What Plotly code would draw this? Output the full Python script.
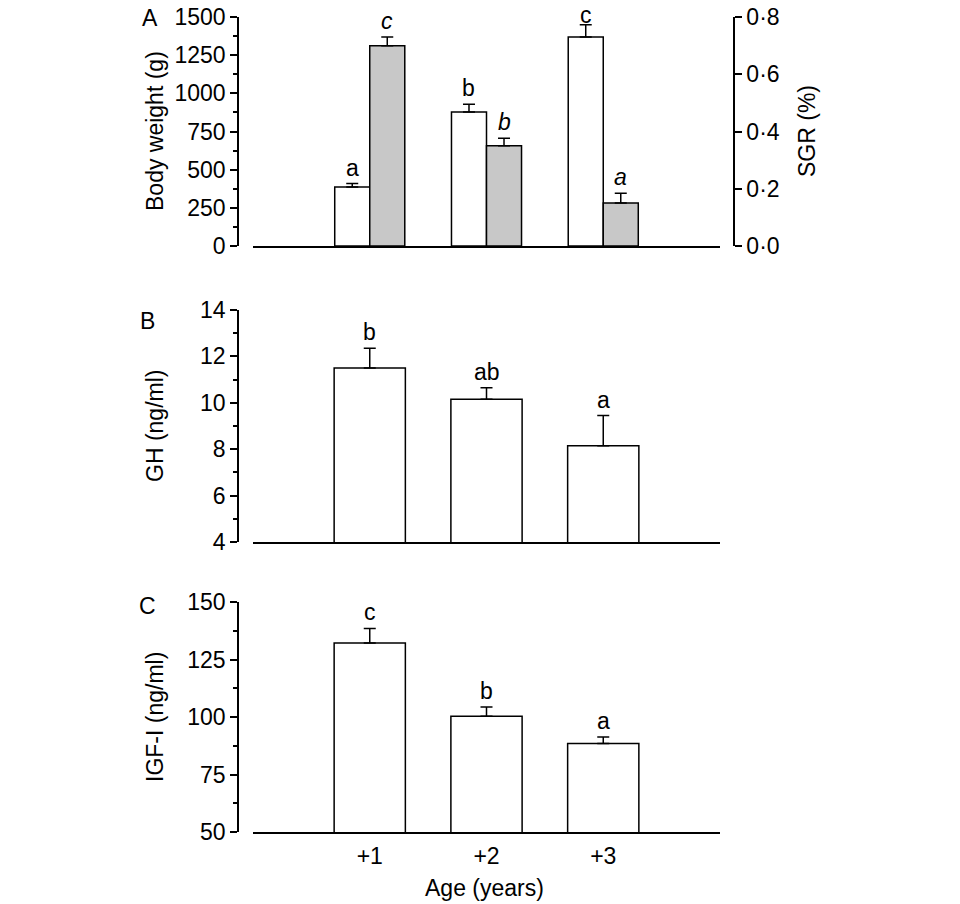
import plotly.graph_objects as go

ages = [1, 2, 3]
age_labels = ["+1", "+2", "+3"]

# panel A
body_weight = [387, 877, 1369]
body_weight_err = [22, 51, 81]
body_weight_letters = ["a", "b", "c"]
sgr = [0.70, 0.35, 0.15]
sgr_err = [0.03, 0.026, 0.034]
sgr_letters = ["c", "b", "a"]
sgr_tickvals = [0, 0.2, 0.4, 0.6, 0.8]
sgr_ticktext = ["0·0", "0·2", "0·4", "0·6", "0·8"]

# panel B
gh = [11.5, 10.15, 8.15]
gh_err = [0.85, 0.5, 1.3]
gh_letters = ["b", "ab", "a"]

# panel C
igf = [132.2, 100.3, 88.5]
igf_err = [6.3, 4.1, 2.8]
igf_letters = ["c", "b", "a"]

FONT = "Liberation Sans, Arial, Helvetica, sans-serif"
W, H = 960, 904
OFF = 8  # page body margin
fs = 23


def px(x):
    return (x - OFF) / W


def py(y):
    return 1 - (y - OFF) / H


xdom = [px(253), px(720)]
doms = {"A": [py(246), py(17)], "B": [py(542), py(310)], "C": [py(832), py(602)]}

fig = go.Figure()

eb = dict(type="data", symmetric=False, color="black", thickness=1.5, width=6)

fig.add_trace(go.Bar(x=ages, y=body_weight, width=0.3, offset=-0.3,
                     marker=dict(color="white", line=dict(color="black", width=1.5)),
                     error_y=dict(eb, array=body_weight_err, arrayminus=[0, 0, 0]),
                     xaxis="x", yaxis="y"))
fig.add_trace(go.Bar(x=ages, y=sgr, width=0.3, offset=0,
                     marker=dict(color="#c8c8c8", line=dict(color="black", width=1.5)),
                     error_y=dict(eb, array=sgr_err, arrayminus=[0, 0, 0]),
                     xaxis="x", yaxis="y2"))
fig.add_trace(go.Bar(x=ages, y=gh, width=0.61,
                     marker=dict(color="white", line=dict(color="black", width=1.5)),
                     error_y=dict(eb, array=gh_err, arrayminus=[0, 0, 0]),
                     xaxis="x2", yaxis="y3"))
fig.add_trace(go.Bar(x=ages, y=igf, width=0.61,
                     marker=dict(color="white", line=dict(color="black", width=1.5)),
                     error_y=dict(eb, array=igf_err, arrayminus=[0, 0, 0]),
                     xaxis="x3", yaxis="y4"))

ax_common = dict(showgrid=False, zeroline=False, showline=True, linecolor="black",
                 linewidth=1.5, automargin=False, ticklabeloverflow="allow",
                 tickfont=dict(family=FONT, size=fs, color="black"))
xcommon = dict(ax_common, range=[0, 4], domain=xdom, ticks="", showticklabels=False)
ycommon = dict(ax_common, ticks="outside", ticklen=7, tickwidth=1.5, tickcolor="black",
               anchor="free", position=px(238))
minor = dict(ticks="outside", ticklen=4, tickwidth=1.5, tickcolor="black")

fig.update_layout(
    width=W, height=H, margin=dict(l=0, r=0, t=0, b=0, pad=0, autoexpand=False),
    paper_bgcolor="white", plot_bgcolor="white", showlegend=False,
    xaxis=dict(xcommon, anchor="y"),
    xaxis2=dict(xcommon, anchor="y3"),
    xaxis3=dict(xcommon, anchor="y4", showticklabels=True, tickvals=ages,
                ticktext=age_labels, ticklabelstandoff=3),
    yaxis=dict(ycommon, domain=doms["A"], range=[0, 1500], dtick=250,
               minor=dict(minor, dtick=125)),
    yaxis2=dict(ycommon, domain=doms["A"], range=[0, 0.8], overlaying="y", side="right",
                position=px(734), tickvals=sgr_tickvals, ticktext=sgr_ticktext),
    yaxis3=dict(ycommon, domain=doms["B"], range=[4, 14], dtick=2,
                minor=dict(minor, dtick=1)),
    yaxis4=dict(ycommon, domain=doms["C"], range=[50, 150], dtick=25,
                minor=dict(minor, dtick=12.5)),
)

ann = []
tf = dict(family=FONT, size=fs, color="black")


def letters(xs, ys, errs, labs, xref, yref, italic=False):
    for x, y, e, t in zip(xs, ys, errs, labs):
        # the tallest label sits against the top edge of the page
        shift = -5 if (yref == "y" and y + e > 1400) else 1
        ann.append(dict(x=x, y=y + e, xref=xref, yref=yref, xanchor="center", yanchor="bottom",
                        text=f"<i>{t}</i>" if italic else t, showarrow=False,
                        yshift=shift, font=tf))


letters([a - 0.15 for a in ages], body_weight, body_weight_err, body_weight_letters, "x", "y")
letters([a + 0.15 for a in ages], sgr, sgr_err, sgr_letters, "x", "y2", italic=True)
letters(ages, gh, gh_err, gh_letters, "x2", "y3")
letters(ages, igf, igf_err, igf_letters, "x3", "y4")

# panel letters and axis titles
for txt, x, y in [("A", 150, 18), ("B", 147, 321), ("C", 147, 606)]:
    ann.append(dict(x=px(x), y=py(y), xref="paper", yref="paper", text=txt,
                    xanchor="center", yanchor="middle", showarrow=False, font=tf))
for txt, x, y in [("Body weight (g)", 155, 131), ("SGR (%)", 807, 131),
                  ("GH (ng/ml)", 155, 426), ("IGF-I (ng/ml)", 155, 717)]:
    ann.append(dict(x=px(x), y=py(y), xref="paper", yref="paper", text=txt, textangle=-90,
                    xanchor="center", yanchor="middle", showarrow=False, font=tf))
ann.append(dict(x=px(484), y=py(888), xref="paper", yref="paper", text="Age (years)",
                xanchor="center", yanchor="middle", showarrow=False, font=tf))
fig.update_layout(annotations=ann)

fig.write_html("out.html")
